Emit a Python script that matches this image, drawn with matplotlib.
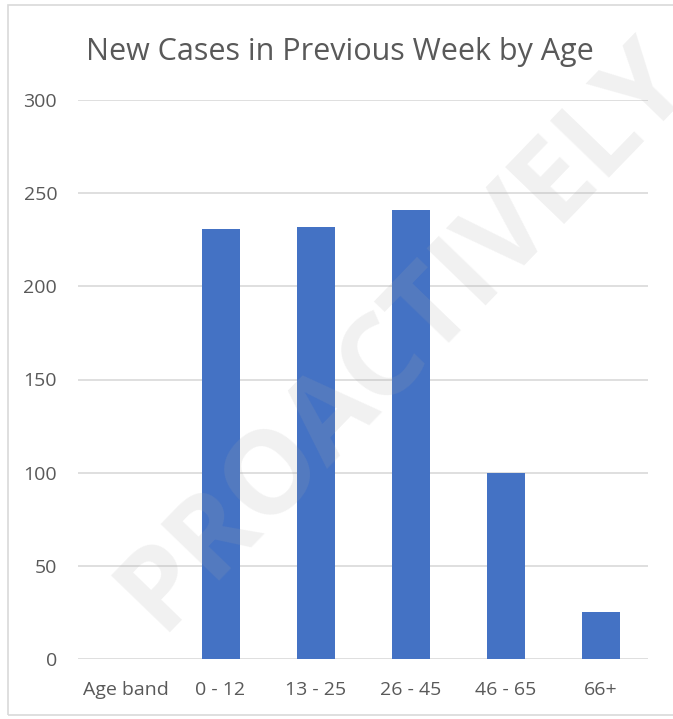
import matplotlib
matplotlib.use("Agg")
import matplotlib.pyplot as plt
from matplotlib.patches import Rectangle

categories = ["Age band", "0 - 12", "13 - 25", "26 - 45", "46 - 65", "66+"]
values = [0, 231, 232, 241, 100, 25]
yticks = [0, 50, 100, 150, 200, 250, 300]
title = "New Cases in Previous Week by Age"
watermark = "PROACTIVELY"

plt.rcParams['font.family'] = ['Open Sans', 'DejaVu Sans']

W, H = 673, 719
fig = plt.figure(figsize=(W / 100, H / 100), dpi=100)
fig.patch.set_facecolor("white")

# outer chart border
fig.patches.append(Rectangle((8 / W, 4 / H), 1.2, (H - 9) / H, transform=fig.transFigure,
                             fill=False, edgecolor="#d9d9d9", linewidth=1.2))

ax = fig.add_axes([78 / W, 60 / H, 570 / W, 559 / H])
x = list(range(len(categories)))
ax.bar(x, values, width=0.4, color="#4472C4", zorder=3)
ax.set_xlim(-0.5, len(categories) - 0.5)
ax.set_ylim(0, 300)
ax.set_yticks(yticks)
ax.set_xticks(x)
ax.set_xticklabels(categories)
for s in ax.spines.values():
    s.set_visible(False)
ax.grid(axis="y", color="#d9d9d9", linewidth=1.2, zorder=0)
ax.tick_params(axis="both", length=0, labelsize=14, labelcolor="#595959")
ax.tick_params(axis="y", pad=15)
ax.tick_params(axis="x", pad=16)
ax.set_facecolor("none")

fig.text(340 / W, 1 - 52 / H, title, ha="center", va="center", fontsize=22,
         color="#595959")

fig.text(160 / W, 1 - 632 / H, watermark, ha="left", va="baseline", fontsize=83,
         fontweight="bold", color="#a8a8a8", alpha=0.16, rotation=46,
         rotation_mode="anchor", family="Open Sans", zorder=10, clip_on=True)

fig.savefig("out.png", dpi=100)
